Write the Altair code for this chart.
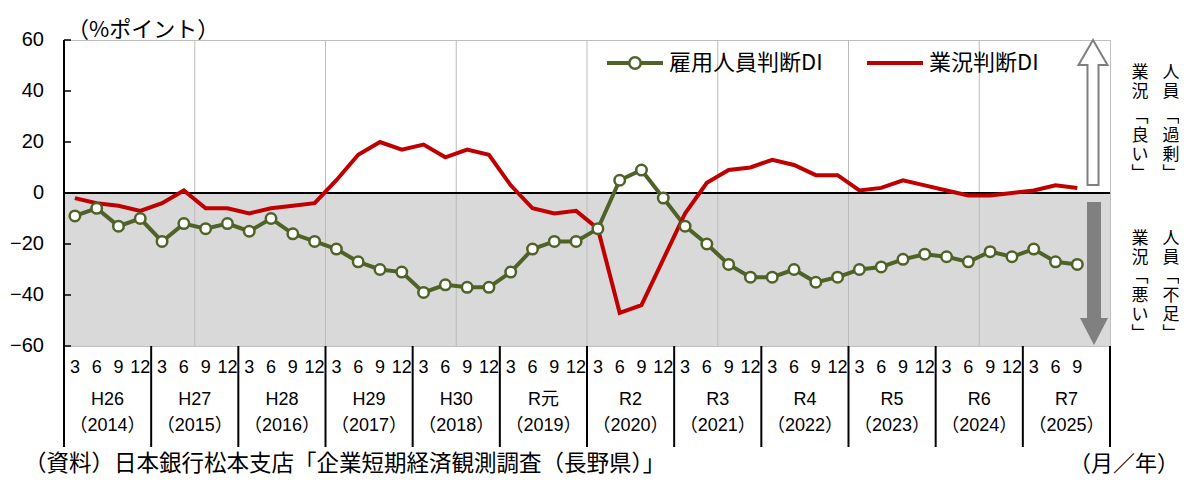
import altair as alt
import pandas as pd

# ---------------- data ----------------
months = [3, 6, 9, 12] * 11 + [3, 6, 9]
eras = ["H26", "H27", "H28", "H29", "H30", "R元", "R2", "R3", "R4", "R5", "R6", "R7"]
years = ["（2014）", "（2015）", "（2016）", "（2017）", "（2018）", "（2019）",
         "（2020）", "（2021）", "（2022）", "（2023）", "（2024）", "（2025）"]
employment = [-9, -6, -13, -10, -19, -12, -14, -12, -15, -10, -16, -19,
              -22, -27, -30, -31, -39, -36, -37, -37, -31, -22, -19, -19,
              -14, 5, 9, -2, -13, -20, -28, -33, -33, -30, -35, -33,
              -30, -29, -26, -24, -25, -27, -23, -25, -22, -27, -28]
business = [-2, -4, -5, -7, -4, 1, -6, -6, -8, -6, -5, -4,
            5, 15, 20, 17, 19, 14, 17, 15, 3, -6, -8, -7,
            -14, -47, -44, -26, -8, 4, 9, 10, 13, 11, 7, 7,
            1, 2, 5, 3, 1, -1, -1, 0, 1, 3, 2]
y_ticks = [-60, -40, -20, 0, 20, 40, 60]
series_names = ["雇用人員判断DI", "業況判断DI"]
unit_label = ["（%ポイント）"]
source_label = ["（資料）日本銀行松本支店「企業短期経済観測調査（長野県）」"]
axis_unit = ["（月／年）"]
note_top_staff = ["人\n員", "\ufe41\n過\n剰\n\ufe42"]
note_top_biz = ["業\n況", "\ufe41\n良\nい\n\ufe42"]
note_bot_staff = ["人\n員", "\ufe41\n不\n足\n\ufe42"]
note_bot_biz = ["業\n況", "\ufe41\n悪\nい\n\ufe42"]

# ---------------- layout ----------------
W, H = 1046, 306
NQ = 48
GREEN = "#4F6228"
RED = "#C00000"
JP = "Noto Sans CJK JP"
NUM = "Liberation Sans Narrow, Liberation Sans, Noto Sans CJK JP"

n = len(employment)
df = pd.DataFrame({
    "q": [i + 0.5 for i in range(n)],
    "month": months,
    "emp": employment,
    "biz": business,
})
years_df = pd.DataFrame({
    "c": [i * 4 + 2 for i in range(len(eras))],
    "era": eras,
    "year": years,
})
sep_df = pd.DataFrame({"b": [i * 4 for i in range(len(eras) + 1)]})
grid_df = pd.DataFrame({"b": list(range(6, NQ, 6))})
tick_df = pd.DataFrame({"v": y_ticks})

xs = alt.Scale(domain=[0, NQ], nice=False, zero=False)
ys = alt.Scale(domain=[-60, 60], nice=False, zero=False)

one = pd.DataFrame({"k": [0]})

shade = alt.Chart(one).mark_rect(color="#D9D9D9").encode(
    x=alt.value(0), x2=alt.value(W),
    y=alt.Y(datum=0, scale=ys, axis=None),
    y2=alt.Y2(datum=-60),
)

grid = alt.Chart(grid_df).mark_rule(color="#BBBBBB", strokeWidth=1).encode(
    x=alt.X("b:Q", scale=xs, axis=None), y=alt.value(0), y2=alt.value(H)
)

zero = alt.Chart(one).mark_rule(color="black", strokeWidth=2).encode(
    y=alt.Y(datum=0, axis=None), x=alt.value(0), x2=alt.value(W)
)

ticks = alt.Chart(tick_df).mark_rule(color="black", strokeWidth=1.5).encode(
    y=alt.Y("v:Q", axis=None), x=alt.value(0), x2=alt.value(7)
)
tick_labels = alt.Chart(tick_df).mark_text(
    font="Liberation Sans", fontSize=20, color="black", align="right",
    baseline="middle"
).encode(y=alt.Y("v:Q", axis=None), x=alt.value(-20), text="v:Q")
y_domain = alt.Chart(one).mark_rule(color="black", strokeWidth=2).encode(
    x=alt.value(0), y=alt.value(0), y2=alt.value(H)
)

red_line = alt.Chart(df).mark_line(color=RED, strokeWidth=4).encode(
    x=alt.X("q:Q", axis=None), y=alt.Y("biz:Q", axis=None)
)
green_line = alt.Chart(df).mark_line(color=GREEN, strokeWidth=4).encode(
    x=alt.X("q:Q", axis=None), y=alt.Y("emp:Q", axis=None)
)
green_pts = alt.Chart(df).mark_point(
    shape="circle", filled=True, fill="white", stroke=GREEN,
    strokeWidth=2.5, size=110, opacity=1
).encode(x=alt.X("q:Q", axis=None), y=alt.Y("emp:Q", axis=None))

# x-axis table
month_txt = alt.Chart(df).mark_text(font=NUM, fontSize=18, color="black",
                                    baseline="middle").encode(
    x=alt.X("q:Q", axis=None), y=alt.value(H + 22), text="month:N"
)
seps = alt.Chart(sep_df).mark_rule(color="black", strokeWidth=2).encode(
    x=alt.X("b:Q", axis=None), y=alt.value(H), y2=alt.value(H + 101)
)
era_txt = alt.Chart(years_df).mark_text(font=NUM, fontSize=18, color="black",
                                        baseline="middle").encode(
    x=alt.X("c:Q", axis=None), y=alt.value(H + 54), text="era:N"
)
year_txt = alt.Chart(years_df).mark_text(font=NUM, fontSize=18, color="black",
                                         baseline="middle").encode(
    x=alt.X("c:Q", axis=None), y=alt.value(H + 80), text="year:N"
)

def label(texts, x, y, size=22, align="left", baseline="middle", lh=None):
    kw = dict(font=JP, fontSize=size, color="black", align=align, baseline=baseline)
    if lh is not None:
        kw.update(lineBreak="\n", lineHeight=lh)
    return alt.Chart(pd.DataFrame({"t": texts})).mark_text(**kw).encode(
        x=alt.value(x), y=alt.value(y), text="t:N"
    )

unit_txt = label(unit_label, 3, -10, size=22)
src_txt = label(source_label, -40, 424, size=22.5)
axu_txt = label(axis_unit, 1115, 424, size=22, align="right")

# legend
leg_g_line = alt.Chart(one).mark_rule(color=GREEN, strokeWidth=4).encode(
    x=alt.value(543), x2=alt.value(599), y=alt.value(23)
)
leg_g_pt = alt.Chart(one).mark_point(
    shape="circle", filled=True, fill="white", stroke=GREEN,
    strokeWidth=2.5, size=130, opacity=1
).encode(x=alt.value(571), y=alt.value(23))
leg_r_line = alt.Chart(one).mark_rule(color=RED, strokeWidth=4).encode(
    x=alt.value(803), x2=alt.value(859), y=alt.value(23)
)
leg_t1 = label([series_names[0]], 605, 23, size=22)
leg_t2 = label([series_names[1]], 865, 23, size=22)

# arrows
up_path = "M0,-1 L0.2,-0.655 L0.076,-0.655 L0.076,1 L-0.076,1 L-0.076,-0.655 L-0.2,-0.655 Z"
down_path = "M-0.098,-1 L0.098,-1 L0.098,0.622 L0.196,0.622 L0,1 L-0.196,0.622 L-0.098,0.622 Z"
up_arrow = alt.Chart(one).mark_point(
    shape=up_path, filled=True, fill="white", stroke="#7F7F7F", strokeWidth=2,
    size=145 * 145, opacity=1
).encode(x=alt.value(1029), y=alt.value(72.5))
down_arrow = alt.Chart(one).mark_point(
    shape=down_path, filled=True, fill="#808080", strokeWidth=0,
    size=143 * 143, opacity=1
).encode(x=alt.value(1030), y=alt.value(233.5))

notes = [
    label([note_top_staff[0]], 1107, 25, size=17, align="center", baseline="top", lh=19),
    label([note_top_staff[1]], 1107, 69, size=17, align="center", baseline="top", lh=19),
    label([note_top_biz[0]], 1076, 25, size=17, align="center", baseline="top", lh=19),
    label([note_top_biz[1]], 1076, 69, size=17, align="center", baseline="top", lh=19),
    label([note_bot_staff[0]], 1107, 191, size=17, align="center", baseline="top", lh=19),
    label([note_bot_staff[1]], 1107, 229, size=17, align="center", baseline="top", lh=19),
    label([note_bot_biz[0]], 1076, 191, size=17, align="center", baseline="top", lh=19),
    label([note_bot_biz[1]], 1076, 229, size=17, align="center", baseline="top", lh=19),
]

chart = alt.layer(
    shade, grid, zero, ticks, tick_labels, y_domain,
    green_line, red_line, green_pts,
    month_txt, seps, era_txt, year_txt,
    unit_txt, src_txt, axu_txt,
    leg_g_line, leg_g_pt, leg_r_line, leg_t1, leg_t2,
    up_arrow, down_arrow, *notes
).resolve_scale(x="shared", y="shared").properties(
    width=W, height=H,
    padding={"left": 56, "top": 32, "right": 69, "bottom": 131},
    autosize=alt.AutoSizeParams(type="none"),
).configure_view(stroke="#BFBFBF", strokeWidth=1)

chart.save("out.html", embed_options={"renderer": "svg", "actions": False})
